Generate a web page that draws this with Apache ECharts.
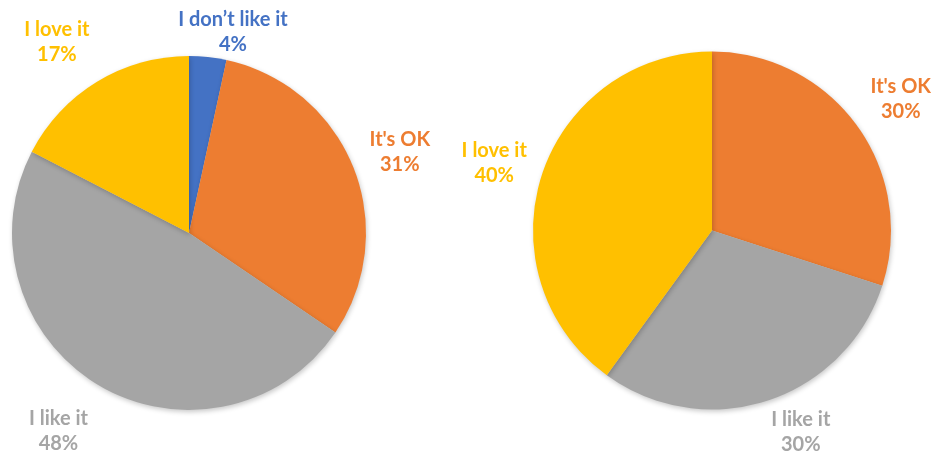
<!DOCTYPE html>
<html>
<head>
<meta charset="utf-8">
<script src="https://cdn.jsdelivr.net/npm/echarts@6/dist/echarts.min.js"></script>
<style>
html,body{margin:0;padding:0;background:#fff;}
#chart{width:931px;height:455px;}
</style>
</head>
<body>
<div id="chart"></div>
<script>
// ---- data ----
const leftCategories = ["I don\u2019t like it", "It's OK", "I like it", "I love it"];
const leftValues = [3.4, 31.1, 48.1, 17.4];
const leftPercents = [4, 31, 48, 17];
const leftColors = ["#4472C4", "#ED7D31", "#A5A5A5", "#FFC000"];

const rightCategories = ["It's OK", "I like it", "I love it"];
const rightValues = [30, 30, 40];
const rightPercents = [30, 30, 40];
const rightColors = ["#ED7D31", "#A5A5A5", "#FFC000"];

// ---- layout ----
const W = 931, H = 455;
const pies = [
  { cats: leftCategories, vals: leftValues, pcts: leftPercents, colors: leftColors, cx: 189, cy: 233, r: 177 },
  { cats: rightCategories, vals: rightValues, pcts: rightPercents, colors: rightColors, cx: 712, cy: 230.5, r: 179 }
];
const labelGap = 50;
const lineH = 25;
const sideNudge = 40;

function labelPos(p, idx) {
  const total = p.vals.reduce((a, b) => a + b, 0);
  let before = 0;
  for (let i = 0; i < idx; i++) before += p.vals[i];
  const mid = (before + p.vals[idx] / 2) / total * Math.PI * 2;
  const d = p.r + labelGap;
  const s = Math.sin(mid), c = Math.cos(mid);
  // labels close to the vertical axis are nudged sideways, away from it
  let x = p.cx + d * s + Math.sign(s) * sideNudge * Math.max(0, Math.abs(c) - 0.5);
  let y = p.cy - d * c + 3;
  y = Math.max(lineH + 7, Math.min(H - lineH + 2, y));
  return { x, y };
}

const chart = echarts.init(document.getElementById('chart'), null, { renderer: 'canvas' });
const series = pies.map((p, si) => ({
  type: 'pie',
  center: [p.cx, p.cy],
  radius: p.r,
  startAngle: 90,
  clockwise: true,
  animation: false,
  avoidLabelOverlap: false,
  silent: true,
  itemStyle: {
    borderWidth: 0,
    shadowBlur: 5,
    shadowOffsetX: 1,
    shadowOffsetY: 2,
    shadowColor: 'rgba(0,0,0,0.22)'
  },
  label: {
    show: true,
    position: 'inside',
    fontFamily: 'Lato',
    fontWeight: 'bold',
    fontSize: 20,
    lineHeight: lineH,
    align: 'center',
    formatter: (params) => p.cats[params.dataIndex] + '\n' + p.pcts[params.dataIndex] + '%'
  },
  labelLine: { show: false },
  labelLayout: (params) => {
    const pos = labelPos(p, params.dataIndex);
    return { x: pos.x, y: pos.y, align: 'center', verticalAlign: 'middle' };
  },
  data: p.vals.map((v, i) => ({
    name: p.cats[i],
    value: v,
    itemStyle: { color: p.colors[i] },
    label: { color: p.colors[i] }
  }))
}));

chart.setOption({
  backgroundColor: '#ffffff',
  series: series
});
</script>
</body>
</html>
